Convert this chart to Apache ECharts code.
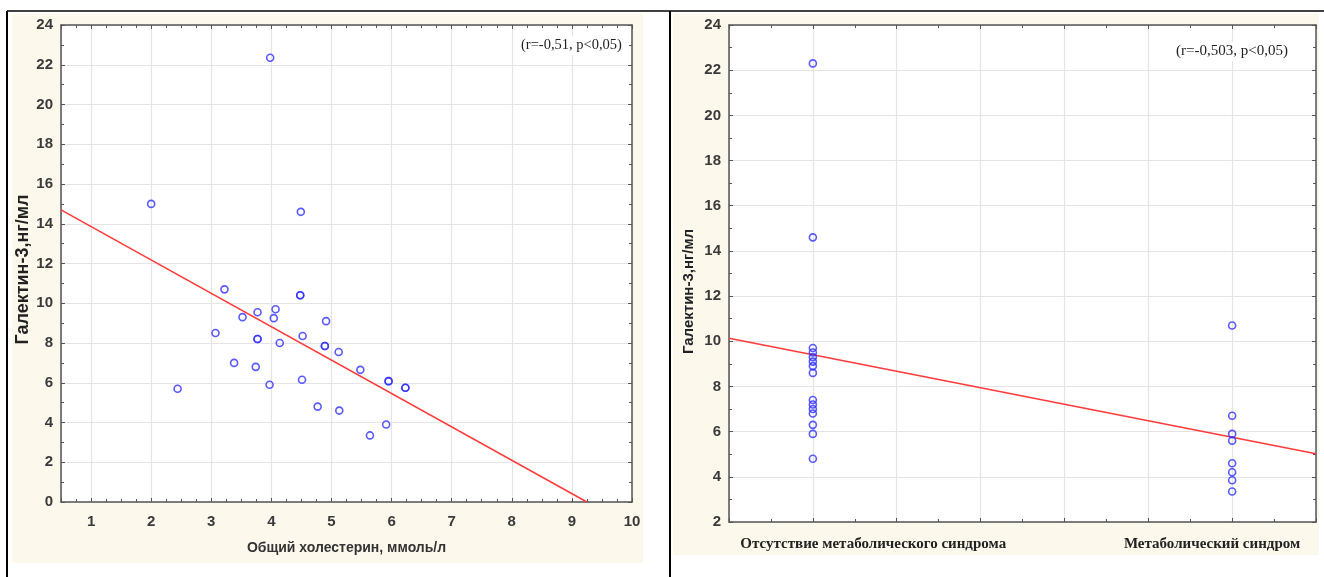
<!DOCTYPE html>
<html>
<head>
<meta charset="utf-8">
<script src="https://cdn.jsdelivr.net/npm/echarts@6/dist/echarts.min.js"></script>
<style>
html,body{margin:0;padding:0;background:#fff;}
#c{width:1324px;height:577px;}
</style>
</head>
<body>
<div id="c"></div>
<script>
// ---- Left panel: total cholesterol vs galectin-3 ----
var cholX = [2.00, 4.49, 3.22, 4.48, 4.48, 4.07, 3.77, 3.52, 4.04, 4.91, 3.07, 3.77, 3.77, 4.52, 4.14, 4.89, 4.89, 5.12, 3.38, 3.74, 5.48, 4.51, 5.95, 5.95, 2.44, 6.23, 6.23, 3.97, 4.77, 5.13, 5.91, 5.64, 3.98];
var galY  = [15.0, 14.6, 10.7, 10.4, 10.4, 9.7, 9.55, 9.3, 9.25, 9.1, 8.5, 8.2, 8.2, 8.35, 8.0, 7.85, 7.85, 7.55, 7.0, 6.8, 6.65, 6.15, 6.08, 6.08, 5.7, 5.75, 5.75, 5.9, 4.8, 4.6, 3.9, 3.35, 22.35];
var leftFitX = [0.5, 9.25];
var leftFitY = [14.7, 0];
var leftNote = '(r=-0,51, p<0,05)';
var leftXName = 'Общий холестерин, ммоль/л';
var yName = 'Галектин-3,нг/мл';

// ---- Right panel: groups ----
var groupNames = ['Отсутствие метаболического синдрома', 'Метаболический синдром'];
var groupX = [1, 6];
var groupLabelX = [1.72, 5.76];
var noMetSyn = [22.3, 14.6, 9.7, 9.5, 9.3, 9.1, 8.9, 8.6, 7.4, 7.2, 7.0, 6.8, 6.3, 5.9, 4.8];
var metSyn = [10.7, 6.7, 5.9, 5.6, 4.6, 4.2, 3.85, 3.35];
var rightFitX = [0, 7];
var rightFitY = [10.13, 5.02];
var rightNote = '(r=-0,503, p<0,05)';

var BLUE = '#3030ff', RED = '#ff3a3a', GRID = '#e4e4e4', AX = '#555';
var tickFont = {fontFamily:'Liberation Sans Narrow, Arial Narrow, sans-serif', fontWeight:'bold', fontSize:15, color:'#3a3a3a'};

function zip(xs, ys){ var r=[]; for(var i=0;i<xs.length;i++) r.push([xs[i], ys[i]]); return r; }
function grp(x, vals){ return vals.map(function(v){ return [x, v]; }); }

function frameAxis(base, extra){
  var o = {
    type:'value', min:base.min, max:base.max,
    axisLine:{show:true, onZero:false, lineStyle:{color:AX, width:1.5}},
    axisTick:{show:true, inside:true, length:4, lineStyle:{color:AX}},
    minorTick:{show:true, splitNumber:base.minor, length:3, lineStyle:{color:AX}},
    axisLabel:{show:false}, splitLine:{show:false}
  };
  if (base.interval) o.interval = base.interval;
  if (base.splitNumber) o.splitNumber = base.splitNumber;
  for (var k in extra) o[k] = extra[k];
  return o;
}

var sym = {color:'rgba(0,0,0,0)', borderColor:BLUE, borderWidth:1.6};

var option = {
  animation:false,
  backgroundColor:'#fff',
  graphic:[
    {type:'rect', z:-10, shape:{x:12, y:14, width:631, height:549}, style:{fill:'#fdf8ec'}, silent:true},
    {type:'rect', z:-10, shape:{x:673, y:14, width:646, height:541}, style:{fill:'#fdf8ec'}, silent:true},
    {type:'rect', z:-9, shape:{x:61, y:25, width:571, height:477}, style:{fill:'#fff'}, silent:true},
    {type:'rect', z:-9, shape:{x:729, y:25, width:587, height:497}, style:{fill:'#fff'}, silent:true},
    {type:'line', shape:{x1:7, y1:11, x2:1324, y2:11}, style:{stroke:'#000', lineWidth:1.5}, silent:true},
    {type:'line', shape:{x1:7, y1:11, x2:7, y2:577}, style:{stroke:'#000', lineWidth:2}, silent:true},
    {type:'line', shape:{x1:670, y1:11, x2:670, y2:577}, style:{stroke:'#000', lineWidth:2}, silent:true}
  ],
  title:[
    {text:leftNote, left:518, top:36, padding:[2,3],
     backgroundColor:'#fff',
     textStyle:{fontFamily:'Liberation Serif, Times New Roman, serif', fontWeight:'normal', fontSize:14.5, color:'#222'}},
    {text:rightNote, left:1173, top:42, padding:[2,3],
     backgroundColor:'#fff',
     textStyle:{fontFamily:'Liberation Serif, Times New Roman, serif', fontWeight:'normal', fontSize:15, color:'#222'}}
  ],
  grid:[
    {left:61, top:25, width:571, height:477},
    {left:729, top:25, width:587, height:497}
  ],
  xAxis:[
    {gridIndex:0, type:'value', min:0.5, max:10, splitNumber:10,
     axisLine:{show:true, onZero:false, lineStyle:{color:AX, width:1.5}},
     axisTick:{show:true, inside:true, length:4, lineStyle:{color:AX}},
     minorTick:{show:true, splitNumber:4, length:3, lineStyle:{color:AX}},
     splitLine:{show:true, lineStyle:{color:GRID, width:1.2}},
     axisLabel:Object.assign({margin:12, showMinLabel:false}, tickFont),
     name:leftXName, nameLocation:'middle', nameGap:39,
     nameTextStyle:{fontFamily:'Liberation Sans Narrow, Arial Narrow, sans-serif', fontWeight:'bold', fontSize:14, color:'#333'}},
    frameAxis({min:0.5, max:10, splitNumber:10, minor:4}, {gridIndex:0, position:'top'}),
    {gridIndex:1, type:'value', min:0, max:7, interval:1,
     axisLine:{show:true, onZero:false, lineStyle:{color:AX, width:1.5}},
     axisTick:{show:true, inside:true, length:4, lineStyle:{color:AX}},
     minorTick:{show:true, splitNumber:2, length:3, lineStyle:{color:AX}},
     splitLine:{show:true, lineStyle:{color:GRID, width:1.2}},
     axisLabel:{show:true, customValues:groupLabelX, margin:15,
       fontFamily:'Liberation Serif, Times New Roman, serif', fontWeight:'bold', fontSize:15, color:'#222',
       formatter:function(v){ var i = groupLabelX.indexOf(v); return i >= 0 ? groupNames[i] : ''; }}},
    frameAxis({min:0, max:7, interval:1, minor:2}, {gridIndex:1, position:'top'})
  ],
  yAxis:[
    {gridIndex:0, type:'value', min:0, max:24, interval:2,
     axisLine:{show:true, onZero:false, lineStyle:{color:AX, width:1.5}},
     axisTick:{show:true, inside:true, length:4, lineStyle:{color:AX}},
     minorTick:{show:true, splitNumber:2, length:3, lineStyle:{color:AX}},
     splitLine:{show:true, lineStyle:{color:GRID, width:1.2}},
     axisLabel:Object.assign({margin:8}, tickFont),
     name:yName, nameLocation:'middle', nameGap:29,
     nameTextStyle:{fontFamily:'Liberation Sans, Arial, sans-serif', fontWeight:'bold', fontSize:18, color:'#222', padding:[0,12,0,0]}},
    frameAxis({min:0, max:24, interval:2, minor:2}, {gridIndex:0, position:'right'}),
    {gridIndex:1, type:'value', min:2, max:24, interval:2,
     axisLine:{show:true, onZero:false, lineStyle:{color:AX, width:1.5}},
     axisTick:{show:true, inside:true, length:4, lineStyle:{color:AX}},
     minorTick:{show:true, splitNumber:2, length:3, lineStyle:{color:AX}},
     splitLine:{show:true, lineStyle:{color:GRID, width:1.2}},
     axisLabel:Object.assign({margin:8}, tickFont),
     name:yName, nameLocation:'middle', nameGap:33,
     nameTextStyle:{fontFamily:'Liberation Sans, Arial, sans-serif', fontWeight:'bold', fontSize:15, color:'#222', padding:[0,36,0,0]}},
    frameAxis({min:2, max:24, interval:2, minor:2}, {gridIndex:1, position:'right'})
  ],
  series:[
    {type:'line', xAxisIndex:0, yAxisIndex:0, data:zip(leftFitX, leftFitY), symbol:'none',
     lineStyle:{color:RED, width:1.5}, z:2},
    {type:'scatter', xAxisIndex:0, yAxisIndex:0, data:zip(cholX, galY), symbol:'circle', symbolSize:7,
     itemStyle:sym, z:3},
    {type:'line', xAxisIndex:2, yAxisIndex:2, data:zip(rightFitX, rightFitY), symbol:'none',
     lineStyle:{color:RED, width:1.5}, z:2},
    {type:'scatter', name:groupNames[0], xAxisIndex:2, yAxisIndex:2, data:grp(groupX[0], noMetSyn), symbol:'circle', symbolSize:7,
     itemStyle:sym, z:3},
    {type:'scatter', name:groupNames[1], xAxisIndex:2, yAxisIndex:2, data:grp(groupX[1], metSyn), symbol:'circle', symbolSize:7,
     itemStyle:sym, z:3}
  ]
};
var chart = echarts.init(document.getElementById('c'), null, {renderer:'canvas'});
chart.setOption(option);
</script>
</body>
</html>
